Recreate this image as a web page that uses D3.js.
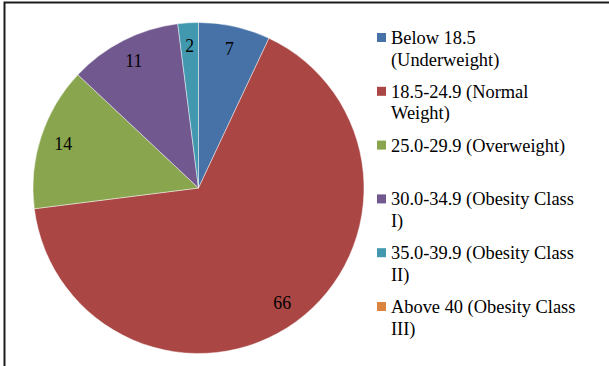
<!DOCTYPE html>
<html>
<head>
<meta charset="utf-8">
<script src="https://cdn.jsdelivr.net/npm/d3@7"></script>
<style>
  html, body { margin: 0; padding: 0; background: #fff; }
  svg { display: block; }
  svg text { font-family: "Liberation Serif", "Times New Roman", Times, serif; }
</style>
</head>
<body>
<script>
// BMI distribution of the sample (percent of respondents)
const categories = [
  "Below 18.5 (Underweight)",
  "18.5-24.9 (Normal Weight)",
  "25.0-29.9 (Overweight)",
  "30.0-34.9 (Obesity Class I)",
  "35.0-39.9 (Obesity Class II)",
  "Above 40 (Obesity Class III)"
];
const values = [7, 66, 14, 11, 2, 0];
// Legend text as it wraps in the legend box
const legendLines = [
  ["Below 18.5", "(Underweight)"],
  ["18.5-24.9 (Normal", "Weight)"],
  ["25.0-29.9 (Overweight)"],
  ["30.0-34.9 (Obesity Class", "I)"],
  ["35.0-39.9 (Obesity Class", "II)"],
  ["Above 40 (Obesity Class", "III)"]
];
const colors = ["#4672A8", "#AA4744", "#89A54E", "#71588F", "#4198AF", "#DB843D"];

const W = 609, H = 366;
const svg = d3.select("body").append("svg")
  .attr("width", W).attr("height", H);

// Frame (top and left edges visible)
svg.append("rect")
  .attr("x", 4.5).attr("y", 2.5)
  .attr("width", 800).attr("height", 600)
  .attr("fill", "none")
  .attr("stroke", "#1c1c1c")
  .attr("stroke-width", 2);

const cx = 198.5, cy = 188, R = 165.5;
const color = d3.scaleOrdinal().domain(categories).range(colors);

const pie = d3.pie().sort(null).value(d => d.value);
const data = categories.map((c, i) => ({ name: c, value: values[i] }));
const arcs = pie(data);

const arc = d3.arc().innerRadius(0).outerRadius(R);
const labelArc = d3.arc().innerRadius(R * 0.86).outerRadius(R * 0.86);

const g = svg.append("g").attr("transform", `translate(${cx},${cy})`);

g.selectAll("path.slice")
  .data(arcs.filter(d => d.value > 0))
  .join("path")
  .attr("class", "slice")
  .attr("d", arc)
  .attr("fill", d => color(d.data.name))
  .attr("stroke", "#ffffff")
  .attr("stroke-opacity", 0.6)
  .attr("stroke-width", 0.75);

g.selectAll("text.val")
  .data(arcs.filter(d => d.value > 0))
  .join("text")
  .attr("class", "val")
  .attr("transform", d => `translate(${labelArc.centroid(d)})`)
  .attr("text-anchor", "middle")
  .attr("dy", "0.35em")
  .attr("font-size", 17.8)
  .attr("fill", "#000")
  .text(d => d.value);

// Legend
const legendY = d3.scalePoint().domain(categories).range([44, 313]);
const lx = 377, lineH = 21.5;

const items = svg.append("g").selectAll("g.item")
  .data(categories)
  .join("g")
  .attr("class", "item")
  .attr("transform", d => `translate(${lx},${legendY(d)})`);

items.append("rect")
  .attr("x", 0).attr("y", -11)
  .attr("width", 9).attr("height", 9)
  .attr("fill", d => color(d));

items.append("text")
  .attr("x", 14)
  .attr("font-size", 18.4)
  .attr("fill", "#000")
  .selectAll("tspan")
  .data((d, i) => legendLines[i])
  .join("tspan")
  .attr("x", 14)
  .attr("y", (d, j) => j * lineH)
  .text(d => d);
</script>
</body>
</html>
